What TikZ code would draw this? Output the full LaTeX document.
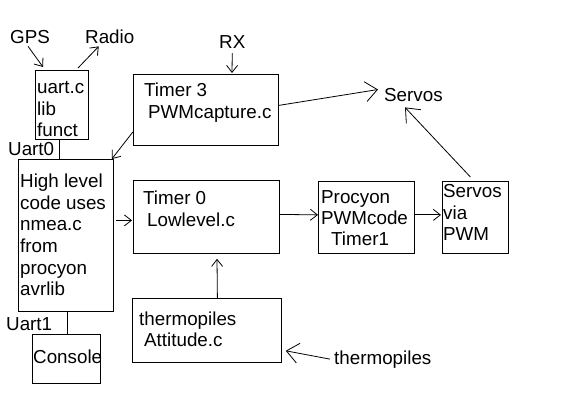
\documentclass[tikz,border=0pt]{standalone}
\usepackage{fontspec}
\setmainfont{Liberation Sans}
\usetikzlibrary{arrows.meta,calc}
\begin{document}
\begin{tikzpicture}[x=1pt,y=-1pt,
  box/.style={draw, line width=0.8pt, inner sep=0pt, anchor=north west},
  txt/.style={inner sep=0pt, anchor=base west, align=left, font=\fontsize{18.8}{21.7}\selectfont},
  lbl/.style={inner sep=0pt, anchor=base west, font=\fontsize{18.8}{21.7}\selectfont},
  conn/.style={line width=0.8pt},
  arr/.style={line width=0.8pt, -{Straight Barb[length=7pt,width=11pt]}},
  bigarr/.style={line width=0.8pt, -{Straight Barb[length=12pt,width=20pt]}}]
\useasboundingbox (0,0) rectangle (562,411);
% boxes
\node[box, minimum width=53pt, minimum height=69pt] (uart) at (35,70) {};
\node[box, minimum width=145pt, minimum height=71pt] (t3) at (133,74) {};
\node[box, minimum width=95pt, minimum height=152pt] (hl) at (18,159) {};
\node[box, minimum width=146pt, minimum height=73pt] (t0) at (133,180) {};
\node[box, minimum width=68pt, minimum height=49pt] (con) at (32,334) {};
\node[box, minimum width=149pt, minimum height=64pt] (th) at (132,298) {};
\node[box, minimum width=96pt, minimum height=72pt] (proc) at (318,181) {};
\node[box, minimum width=66pt, minimum height=72pt] (sb) at (442,181) {};
% texts (base anchor = baseline of the last line)
\node[txt] (uartt) at (37,137) {uart.c\\lib\\funct};
\node[txt] (t3a) at (144,97) {Timer 3};
\node[txt] (t3b) at (148,119) {PWMcapture.c};
\node[txt] (hlt) at (20,296) {High level\\code uses\\nmea.c\\from\\procyon\\avrlib};
\node[txt] (t0a) at (143,205) {Timer 0};
\node[txt] (t0b) at (147,227) {Lowlevel.c};
\node[txt] (cont) at (33,363) {Console};
\node[txt] (tha) at (139,326) {thermopiles};
\node[txt] (thb) at (144,347) {Attitude.c};
\node[txt] (proca) at (321,225) {Procyon\\PWMcode};
\node[txt] (procb) at (331,246) {Timer1};
\node[txt] (sbt) at (443,241) {Servos\\via\\PWM};
% labels
\node[lbl] (gps) at (10,44) {GPS};
\node[lbl] (radio) at (85,44) {Radio};
\node[lbl] (rx) at (219,49) {RX};
\node[lbl] (uart0) at (8,156) {Uart0};
\node[lbl] (uart1) at (6,331) {Uart1};
\node[lbl] (servos) at (384,102) {Servos};
\node[lbl] (thl) at (334,365) {thermopiles};
% connectors
\draw[arr] ([xshift=-2pt,yshift=-2pt]gps.south) -- ([xshift=8pt,yshift=3pt]uart.north west);
\draw[arr] ([xshift=43pt,yshift=2pt]uart.north west) -- ([xshift=-11pt,yshift=-2pt]radio.south);
\draw[arr] ([yshift=-4pt]rx.south) -- ([xshift=99pt,yshift=1pt]t3.north west);
\draw[conn] ([xshift=24pt]uart.south west) -- ([xshift=41pt]hl.north west);
\draw[conn] ([xshift=1.5pt]hl.south) -- ([xshift=1pt]con.north);
\draw[arr] ([yshift=14pt]t3.south west) -- ([xshift=-2pt]hl.north east);
\draw[bigarr] ([yshift=4.5pt]t3.east) -- ([xshift=-6pt,yshift=6pt]servos.west);
\draw[arr] ([xshift=2pt,yshift=-3.5pt]t0.west -| hl.east) -- ([yshift=-3.5pt,xshift=-1pt]t0.west);
\draw[arr] ([yshift=2.5pt]t0.east) -- ([yshift=2.5pt]proc.west);
\draw[arr] ([yshift=2.5pt]proc.east) -- ([yshift=2.5pt,xshift=-1pt]sb.west);
\draw[bigarr] ([xshift=-5pt,yshift=4pt]sb.north) -- ([xshift=21pt,yshift=-5pt]servos.south west);
\draw[arr] ([xshift=10.5pt]th.north) -- ([xshift=84pt,yshift=-5pt]t0.south west);
\draw[bigarr] ([xshift=-4pt,yshift=1pt]thl.west) -- ([xshift=4pt,yshift=12pt]th.south east);
\end{tikzpicture}
\end{document}
